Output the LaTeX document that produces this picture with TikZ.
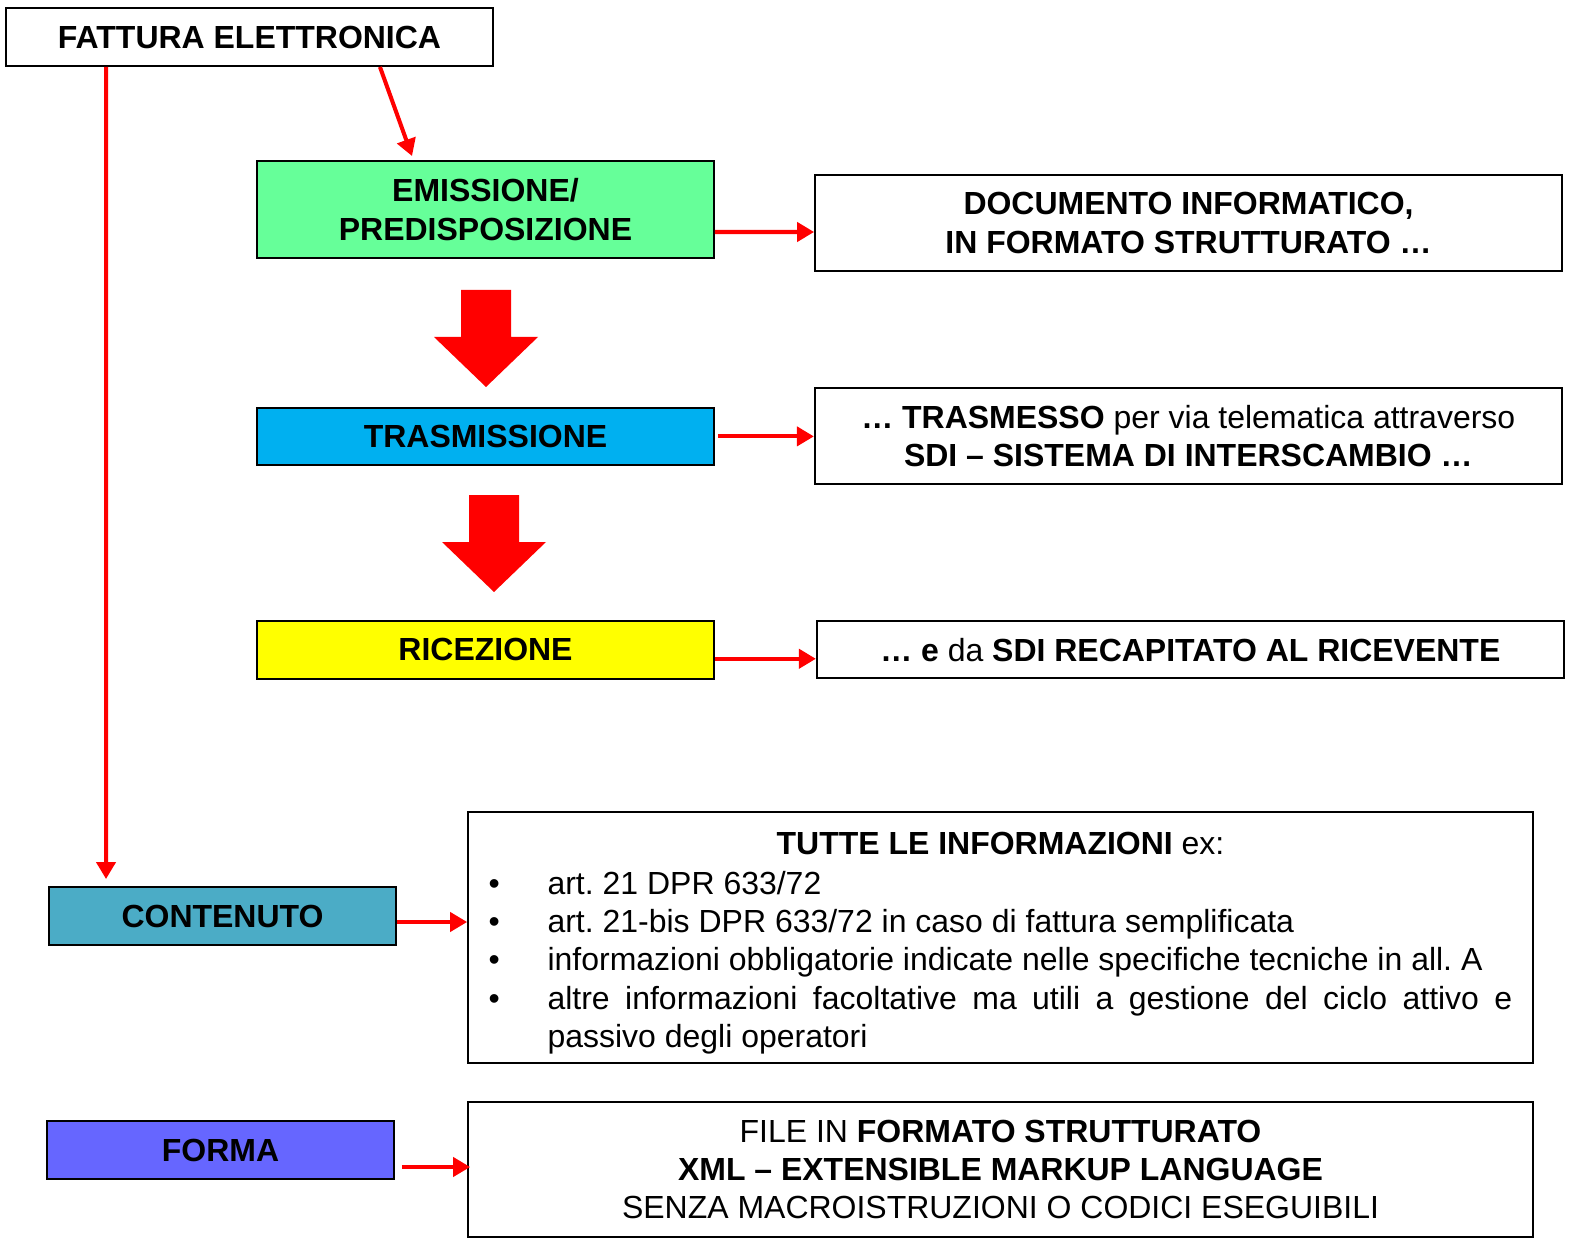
\documentclass[tikz,border=0pt]{standalone}
\usepackage{fontspec}
\setmainfont{Liberation Sans}
\usepackage{tikz}
\usetikzlibrary{positioning, arrows.meta}

\definecolor{verde}{HTML}{66FF99}
\definecolor{azzurro}{HTML}{00B0F0}
\definecolor{giallo}{HTML}{FFFF00}
\definecolor{ottanio}{HTML}{4BACC6}
\definecolor{viola}{HTML}{6666FF}

% voce di elenco con rientro sospeso
\newcommand{\voce}[1]{\par\noindent\hangindent=1.18cm\hangafter=1
  \makebox[1.18cm][l]{\textbullet}#1\par}

\begin{document}
\frenchspacing
\begin{tikzpicture}[x=0.02cm, y=-0.02cm,
	font=\fontsize{18.2}{21.8}\selectfont, node distance = 0.1 cm,
	box/.style = { rectangle, draw=black, line width=1.1pt, fill=white,
	align=center, inner sep=0pt},
	fase/.style = { box, font=\fontsize{18.2}{21.8}\selectfont\bfseries,
	minimum width=9.14cm},
	link/.style = { draw=red, line width=2.3pt,
	-{Triangle[length=0.34cm, width=0.38cm]}} ]

  \useasboundingbox (0,0) rectangle (1573,1240);

  \node [name=fattura, box, minimum width=9.74cm, minimum height=1.16cm]
	at (249.5,37) {\textbf{FATTURA ELETTRONICA}};

  \node [name=emissione, fase, fill=verde, minimum height=1.94cm]
	at (485.5,209.5) {EMISSIONE/\\PREDISPOSIZIONE};
  \node [name=trasmissione, fase, fill=azzurro, minimum height=1.14cm,
	below=2.96cm of emissione] {TRASMISSIONE};
  \node [name=ricezione, fase, fill=giallo, minimum height=1.16cm,
	below=3.08cm of trasmissione] {RICEZIONE};

  \node [name=documento, box, minimum width=14.94cm, minimum height=1.92cm]
	at (1188.5,223)
	{\textbf{DOCUMENTO INFORMATICO,}\\\textbf{IN FORMATO STRUTTURATO …}};
  \node [name=trasmesso, box, minimum width=14.94cm, minimum height=1.92cm,
	right=1.98cm of trasmissione]
	{\textbf{… TRASMESSO} per via telematica attraverso\\
	\textbf{SDI – SISTEMA DI INTERSCAMBIO …}};
  \node [name=recapitato, box, minimum width=14.94cm, minimum height=1.14cm,
	right=2.02cm of ricezione]
	{\textbf{… e} da \textbf{SDI RECAPITATO AL RICEVENTE}};

  \node [name=contenuto, fase, fill=ottanio, minimum width=6.94cm,
	minimum height=1.16cm] at (222.5,916) {CONTENUTO};
  \node [name=forma, fase, fill=viola, minimum width=6.94cm,
	minimum height=1.16cm] at (220.5,1150) {FORMA};

  \node [name=tutte, box, minimum width=21.3cm, minimum height=5.02cm,
	text width=20.48cm, align=justify] at (1000.5,937.5)
	{\noindent\makebox[\linewidth]{\textbf{TUTTE LE INFORMAZIONI} ex:}\par
	\vspace{0.04cm}
	\voce{art. 21 DPR 633/72}
	\voce{art. 21-bis DPR 633/72 in caso di fattura semplificata}
	\voce{informazioni obbligatorie indicate nelle specifiche tecniche in all. A}
	\voce{altre informazioni facoltative ma utili a gestione del ciclo attivo e\linebreak passivo degli operatori}
	\kern-0.22cm};
  \node [name=file, box, minimum width=21.3cm, minimum height=2.7cm,
	below=0.74cm of tutte]
	{FILE IN \textbf{FORMATO STRUTTURATO}\\
	\textbf{XML – EXTENSIBLE MARKUP LANGUAGE}\\
	SENZA MACROISTRUZIONI O CODICI ESEGUIBILI};

  % frecce piene tra le fasi
  \foreach \dx/\dy in {0/0, 8/205}
	\fill [red, shift={(\dx,\dy)}] (461,290) -- (511,290) -- (511,337)
	-- (538,337) -- (486,387) -- (434,337) -- (461,337) -- cycle;

  \draw [link] ([xshift=2.61cm]fattura.south)
	-- ([xshift=-1.47cm, yshift=0.08cm]emissione.north);
  \draw [link] ([xshift=-2.87cm]fattura.south)
	-- ([xshift=-2.33cm, yshift=0.14cm]contenuto.north);

  \draw [link] ([yshift=-0.45cm]emissione.east)
	-- ([yshift=-0.18cm]documento.west);
  \draw [link] ([xshift=0.06cm]trasmissione.east) -- (trasmesso.west);
  \draw [link] ([yshift=-0.18cm]ricezione.east)
	-- ([yshift=-0.18cm]recapitato.west);
  \draw [link] ([yshift=-0.12cm]contenuto.east)
	-- ([yshift=-0.12cm]contenuto.east -| tutte.west);
  \draw [link] ([xshift=0.14cm, yshift=-0.34cm]forma.east)
	-- ([xshift=0.06cm, yshift=-0.34cm]forma.east -| file.west);
\end{tikzpicture}
\end{document}
